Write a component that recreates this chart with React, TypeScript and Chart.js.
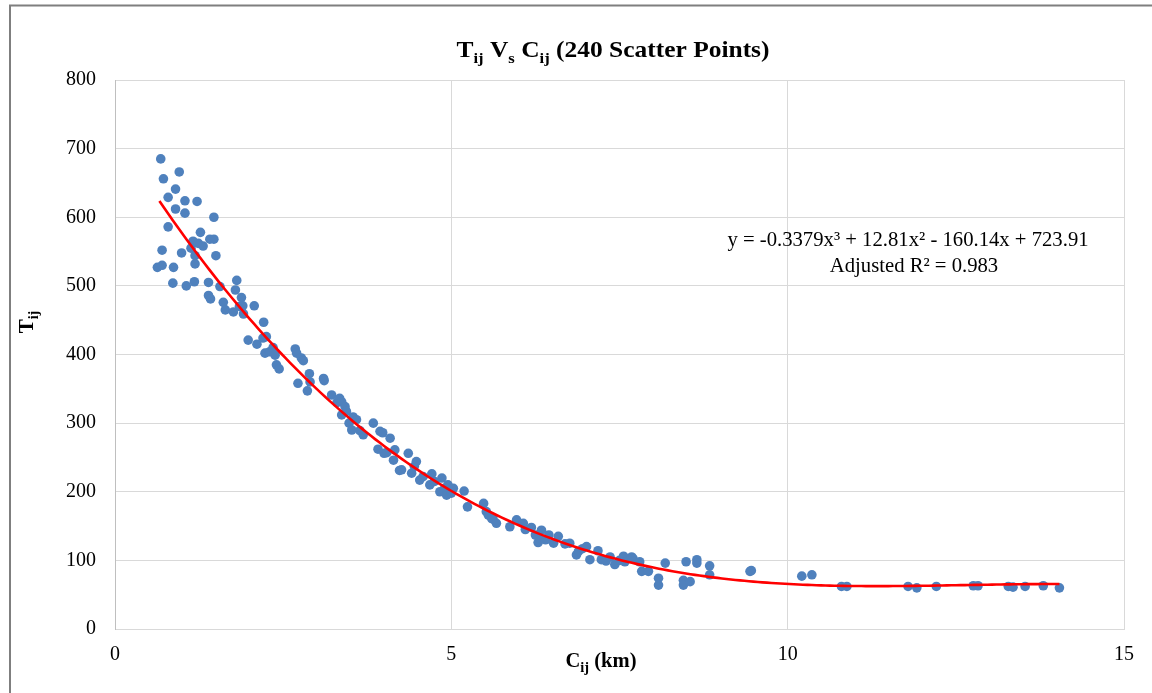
import React, { useEffect, useRef } from "react";
import { Chart, registerables } from "chart.js";

Chart.register(...registerables);

// Cij (km) values of the scatter points
const cijKm: number[] = [
  0.63, 0.68, 0.70, 0.70, 0.72, 0.79, 0.79, 0.86, 0.87, 0.90, 0.90, 0.955, 0.99, 1.04, 1.04, 1.06,
  1.13, 1.16, 1.18, 1.19, 1.19, 1.22, 1.24, 1.27, 1.31, 1.39, 1.39, 1.41, 1.42, 1.47, 1.47, 1.50,
  1.56, 1.61, 1.64, 1.76, 1.79, 1.81, 1.85, 1.88, 1.90, 1.91, 1.98, 2.07, 2.11, 2.20, 2.21, 2.25,
  2.23, 2.30, 2.35, 2.38, 2.40, 2.44, 2.68, 2.70, 2.72, 2.77, 2.80, 2.86, 2.89, 2.90, 3.10, 3.11,
  3.22, 3.30, 3.34, 3.37, 3.37, 3.42, 3.44, 3.48, 3.52, 3.54, 3.59, 3.64, 3.69, 3.84, 3.91, 3.94,
  3.98, 4.00, 4.04, 4.09, 4.14, 4.16, 4.23, 4.26, 4.36, 4.41, 4.45, 4.48, 4.53, 4.58, 4.68, 4.71,
  4.75, 4.83, 4.86, 4.90, 4.93, 4.95, 5.00, 5.03, 5.19, 5.24, 5.48, 5.52, 5.55, 5.60, 5.62, 5.67,
  5.87, 5.97, 6.07, 6.10, 6.19, 6.25, 6.29, 6.32, 6.34, 6.40, 6.45, 6.52, 6.59, 6.69, 6.76, 6.86,
  6.89, 6.95, 7.01, 7.06, 7.18, 7.23, 7.30, 7.36, 7.43, 7.50, 7.56, 7.58, 7.68, 7.70, 7.80, 7.83,
  7.93, 8.08, 8.08, 8.18, 8.45, 8.45, 8.49, 8.55, 8.65, 8.65, 8.84, 8.84, 9.44, 9.46, 10.21, 10.36,
  10.80, 10.88, 11.79, 11.92, 12.21, 12.76, 12.83, 13.28, 13.35, 13.53, 13.80, 14.04,
];

// Tij values of the scatter points (same order)
const tij: number[] = [
  527, 685, 552, 530, 656, 629, 586, 504, 527, 641, 612, 666, 548, 624, 606, 500,
  555, 565, 506, 544, 532, 623, 562, 578, 558, 505, 486, 568, 481, 568, 600, 544,
  499, 476, 465, 462, 494, 508, 470, 483, 471, 459, 421, 471, 415, 424, 447, 426,
  402, 404, 410, 399, 385, 379, 408, 402, 358, 395, 391, 347, 372, 360, 365, 362,
  341, 330, 336, 331, 312, 324, 317, 300, 290, 309, 305, 289, 283, 300, 262, 288,
  286, 256, 257, 278, 246, 261, 231, 232, 256, 227, 237, 244, 217, 222, 210, 226,
  215, 200, 220, 205, 195, 210, 198, 205, 201, 178, 183, 171, 166, 161, 160, 154,
  149, 159, 154, 145, 148, 137, 126, 132, 144, 130, 137, 125, 135, 124, 125, 108,
  113, 117, 120, 101, 114, 101, 99, 105, 94, 100, 106, 98, 105, 103, 98, 84,
  84, 74, 64, 96, 71, 64, 98, 69, 101, 96, 92, 79, 84, 85, 77, 79,
  62, 62, 62, 60, 62, 63, 63, 62, 61, 62, 63, 60,
];

// Cubic trendline shown in the chart: y = a x^3 + b x^2 + c x + d
const trendCoefficients: number[] = [-0.3379, 12.81, -160.14, 723.91];
const trendRange: number[] = [0.66, 14.04];

const xTickValues: number[] = [0, 5, 10, 15];
const yTickValues: number[] = [0, 100, 200, 300, 400, 500, 600, 700, 800];

const equationLines: string[] = [
  "y = -0.3379x³ + 12.81x² - 160.14x + 723.91",
  "Adjusted R² = 0.983",
];

const SERIF = "'Liberation Serif', 'Times New Roman', serif";

type Seg = { t: string; sub?: boolean };

function drawRich(
  ctx: CanvasRenderingContext2D,
  segs: Seg[],
  cx: number,
  baseline: number,
  mainFont: string,
  subFont: string,
  subShift: number,
  targetWidth?: number
) {
  let total = 0;
  const widths = segs.map((s) => {
    ctx.font = s.sub ? subFont : mainFont;
    const w = ctx.measureText(s.t).width;
    total += w;
    return w;
  });
  const sx = targetWidth ? targetWidth / total : 1;
  ctx.save();
  ctx.translate(cx, baseline);
  ctx.scale(sx, 1);
  let x = -total / 2;
  ctx.textAlign = "left";
  ctx.textBaseline = "alphabetic";
  segs.forEach((s, i) => {
    ctx.font = s.sub ? subFont : mainFont;
    ctx.fillText(s.t, x, s.sub ? subShift : 0);
    x += widths[i];
  });
  ctx.restore();
}

const decorPlugin = {
  id: "decor",
  beforeDraw(chart: any) {
    const ctx = chart.ctx as CanvasRenderingContext2D;
    ctx.save();
    ctx.fillStyle = "#ffffff";
    ctx.fillRect(0, 0, chart.width, chart.height);
    ctx.restore();
  },
  afterDraw(chart: any) {
    const ctx = chart.ctx as CanvasRenderingContext2D;
    ctx.save();
    ctx.fillStyle = "#000000";
    // Title
    drawRich(
      ctx,
      [
        { t: "T" },
        { t: "ij", sub: true },
        { t: " V" },
        { t: "s", sub: true },
        { t: " C" },
        { t: "ij", sub: true },
        { t: " (240 Scatter Points)" },
      ],
      613,
      57,
      `bold 23px ${SERIF}`,
      `bold 15px ${SERIF}`,
      6,
      313
    );
    // X axis title
    drawRich(
      ctx,
      [{ t: "C" }, { t: "ij", sub: true }, { t: " (km)" }],
      601,
      667,
      `bold 20px ${SERIF}`,
      `bold 14px ${SERIF}`,
      5,
      71
    );
    // Y axis title
    ctx.save();
    ctx.translate(33, 322);
    ctx.rotate(-Math.PI / 2);
    drawRich(
      ctx,
      [{ t: "T" }, { t: "ij", sub: true }],
      0,
      0,
      `bold 21px ${SERIF}`,
      `bold 14px ${SERIF}`,
      5
    );
    ctx.restore();
    // Equation
    ctx.font = `20.7px ${SERIF}`;
    ctx.textAlign = "center";
    ctx.textBaseline = "alphabetic";
    ctx.fillText(equationLines[0], 908, 246);
    ctx.fillText(equationLines[1], 914, 272);
    // Outer border
    ctx.strokeStyle = "#7f7f7f";
    ctx.lineWidth = 2;
    ctx.strokeRect(10, 5.5, 1160, 720);
    ctx.restore();
  },
};

export default function App() {
  const canvasRef = useRef<HTMLCanvasElement | null>(null);

  useEffect(() => {
    if (!canvasRef.current) return;
    const scatterData = cijKm.map((x, i) => ({ x, y: tij[i] }));
    const [a, b, c, d] = trendCoefficients;
    const trendData: { x: number; y: number }[] = [];
    const steps = 200;
    for (let i = 0; i <= steps; i++) {
      const x = trendRange[0] + ((trendRange[1] - trendRange[0]) * i) / steps;
      trendData.push({ x, y: a * x * x * x + b * x * x + c * x + d });
    }

    const chart = new Chart(canvasRef.current, {
      type: "scatter",
      data: {
        datasets: [
          {
            label: "Tij",
            data: scatterData,
            backgroundColor: "#4f81bd",
            borderColor: "#4f81bd",
            borderWidth: 0,
            pointRadius: 4.8,
            pointHoverRadius: 4.8,
            order: 2,
          },
          {
            label: "Trend",
            type: "line",
            data: trendData,
            borderColor: "#ff0000",
            borderWidth: 2.6,
            pointRadius: 0,
            fill: false,
            tension: 0,
            showLine: true,
            order: 1,
          } as any,
        ],
      },
      options: {
        responsive: false,
        animation: false,
        devicePixelRatio: 1,
        layout: { padding: { top: 80, right: 28, left: 0, bottom: 0 } },
        plugins: {
          legend: { display: false },
          title: { display: false },
          tooltip: { enabled: false },
        },
        scales: {
          x: {
            type: "linear",
            min: 0,
            max: 15,
            afterBuildTicks: (scale: any) => {
              scale.ticks = xTickValues.map((v) => ({ value: v }));
            },
            afterFit: (scale: any) => {
              scale.height = 64;
            },
            ticks: {
              font: { family: SERIF, size: 20 },
              color: "#000000",
              padding: 14,
              maxRotation: 0,
            },
            grid: { color: "#d9d9d9", lineWidth: 1, drawTicks: false },
            border: { display: true, color: "#d9d9d9", width: 1 },
          },
          y: {
            type: "linear",
            min: 0,
            max: 800,
            afterBuildTicks: (scale: any) => {
              scale.ticks = yTickValues.map((v) => ({ value: v }));
            },
            afterFit: (scale: any) => {
              scale.width = 115;
            },
            ticks: {
              font: { family: SERIF, size: 20 },
              color: "#000000",
              padding: 19,
            },
            grid: { color: "#d9d9d9", lineWidth: 1, drawTicks: false },
            border: { display: true, color: "#bfbfbf", width: 1 },
          },
        },
      },
      plugins: [decorPlugin],
    });

    return () => chart.destroy();
  }, []);

  return (
    <div style={{ position: "fixed", left: 0, top: 0, width: 1152, height: 693, background: "#fff" }}>
      <canvas ref={canvasRef} width={1152} height={693} style={{ width: 1152, height: 693, display: "block" }} />
    </div>
  );
}
